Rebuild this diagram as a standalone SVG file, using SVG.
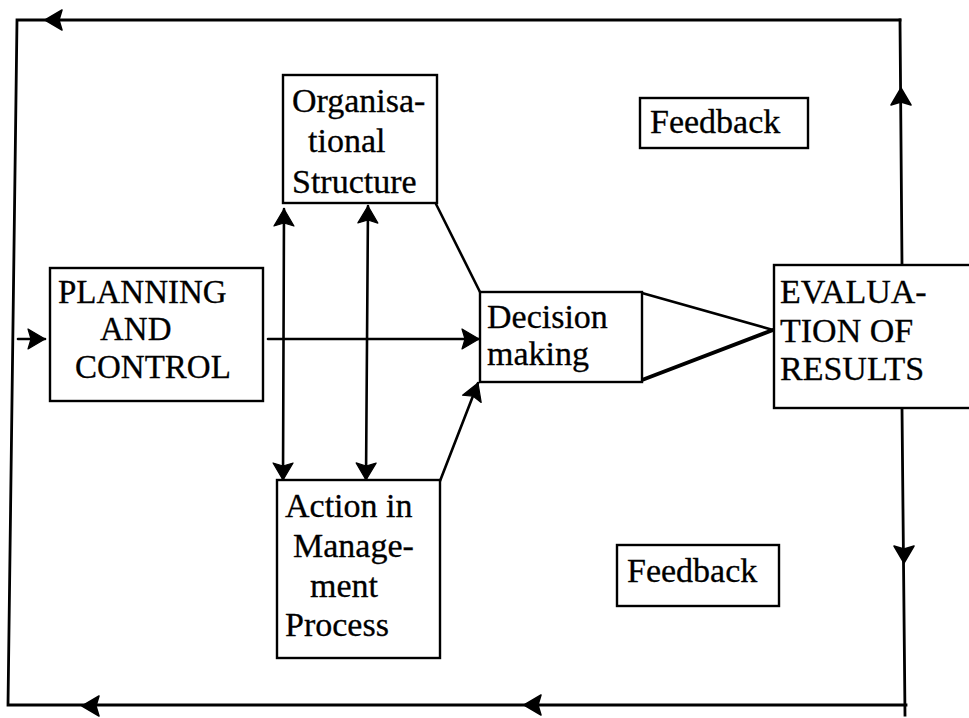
<svg xmlns="http://www.w3.org/2000/svg" xmlns:xlink="http://www.w3.org/1999/xlink" width="969" height="718" viewBox="0 0 969 718">
<style>
  .box { fill: #fff; stroke: #000; stroke-width: 2.4; }
  .lbl { font-family: "Liberation Serif", "Times New Roman", serif; font-size: 34px; fill: #000; stroke: #000; stroke-width: 0.3; }
  .cap { font-size: 33px; }
  .ln { fill: none; stroke: #000; stroke-width: 2.6; stroke-linecap: round; }
  .loop { fill: none; stroke: #000; stroke-width: 2.8; stroke-linecap: square; }
  .head { fill: #000; stroke: #000; stroke-width: 1.5; stroke-linejoin: round; }
</style>
<defs>
  <path id="ah" d="M0,0 L-17,-10 L-14,0 L-17,10 Z"/>
  <marker id="arr" markerUnits="userSpaceOnUse" markerWidth="24" markerHeight="24" viewBox="-19 -12 21 24" refX="0" refY="0" orient="auto">
    <path d="M0,0 L-17,-10 L-14,0 L-17,10 Z" fill="#000" stroke="#000" stroke-width="1.2" stroke-linejoin="round"/>
  </marker>
  <marker id="arrs" markerUnits="userSpaceOnUse" markerWidth="24" markerHeight="24" viewBox="-19 -12 21 24" refX="0" refY="0" orient="auto-start-reverse">
    <path d="M0,0 L-17,-10 L-14,0 L-17,10 Z" fill="#000" stroke="#000" stroke-width="1.2" stroke-linejoin="round"/>
  </marker>
</defs>

<g id="connectors">
  <!-- outer feedback loop -->
  <path class="loop" d="M900,20 L17,20 L8,705 L906,705"/>
  <path class="loop" d="M900,20 L902,265"/>
  <path class="loop" d="M902,408 L905,715"/>
  <use href="#ah" class="head" transform="translate(45,20) rotate(180)"/>
  <use href="#ah" class="head" transform="translate(82,706) rotate(180)"/>
  <use href="#ah" class="head" transform="translate(524,705) rotate(180)"/>
  <use href="#ah" class="head" transform="translate(901,88) rotate(-90)"/>
  <use href="#ah" class="head" transform="translate(904,563) rotate(90)"/>
  <!-- entry into planning -->
  <path class="ln" d="M18,339 L45,339" marker-end="url(#arr)"/>
  <!-- planning to decision -->
  <path class="ln" d="M268,339 L479,339" marker-end="url(#arr)"/>
  <!-- double arrows between org structure and action -->
  <path class="ln" d="M284,209 L283,480" marker-start="url(#arrs)" marker-end="url(#arr)"/>
  <path class="ln" d="M368,206 L366,480" marker-start="url(#arrs)" marker-end="url(#arr)"/>
  <!-- org structure to decision -->
  <path class="ln" d="M436,204 L480,292"/>
  <!-- action to decision -->
  <path class="ln" d="M440,481 L478,383" marker-end="url(#arr)"/>
  <!-- decision to evaluation (funnel) -->
  <path class="ln" d="M642,293 L773,330"/>
  <path class="ln" style="stroke-width:4" d="M642,380 L773,330"/>
</g>

<g id="org-structure">
  <rect class="box" x="283" y="75" width="154" height="128"/>
  <text class="lbl" x="292" y="112">Organisa-</text>
  <text class="lbl" x="308" y="152">tional</text>
  <text class="lbl" x="292" y="193">Structure</text>
</g>

<g id="planning">
  <rect class="box" x="50" y="268" width="213" height="133"/>
  <text class="lbl cap" x="58" y="303">PLANNING</text>
  <text class="lbl cap" x="100" y="340">AND</text>
  <text class="lbl cap" x="75" y="378">CONTROL</text>
</g>

<g id="decision">
  <rect class="box" x="480" y="292" width="162" height="90"/>
  <text class="lbl" x="487" y="328">Decision</text>
  <text class="lbl" x="487" y="365">making</text>
</g>

<g id="evaluation">
  <rect class="box" x="774" y="265" width="215" height="143"/>
  <text class="lbl" x="780" y="303">EVALUA-</text>
  <text class="lbl" x="780" y="342">TION OF</text>
  <text class="lbl" x="780" y="380">RESULTS</text>
</g>

<g id="action">
  <rect class="box" x="277" y="480" width="163" height="178"/>
  <text class="lbl" x="285" y="517">Action in</text>
  <text class="lbl" x="293" y="557">Manage-</text>
  <text class="lbl" x="310" y="597">ment</text>
  <text class="lbl" x="285" y="636">Process</text>
</g>

<g id="feedback-top">
  <rect class="box" x="640" y="98" width="168" height="50"/>
  <text class="lbl" x="650" y="133">Feedback</text>
</g>

<g id="feedback-bottom">
  <rect class="box" x="617" y="545" width="162" height="61"/>
  <text class="lbl" x="627" y="582">Feedback</text>
</g>
</svg>
